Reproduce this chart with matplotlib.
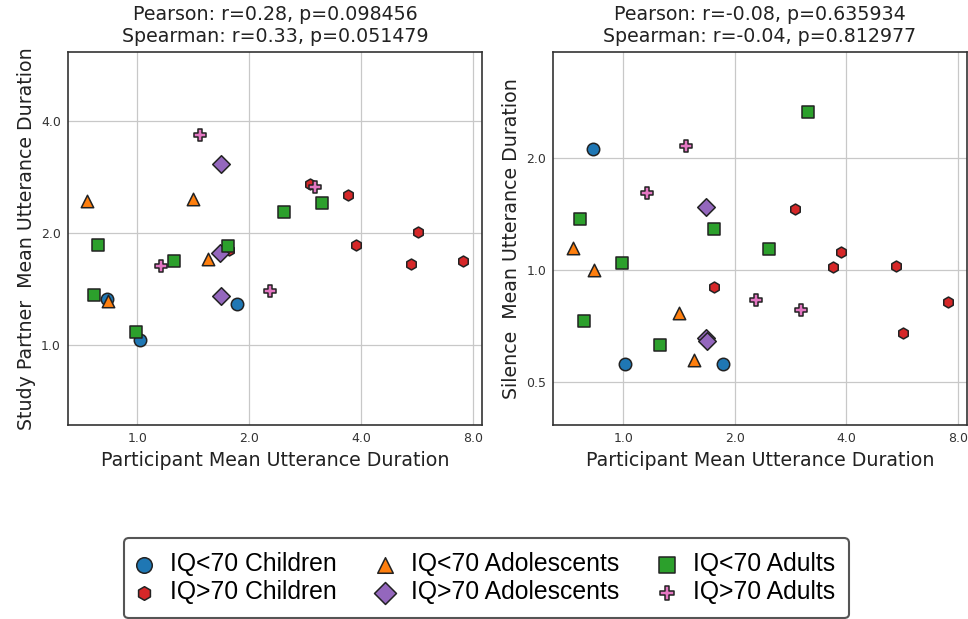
import matplotlib
matplotlib.use("Agg")
import matplotlib.pyplot as plt

# ---- data ----
groups = ["IQ<70 Children", "IQ>70 Children", "IQ<70 Adolescents",
          "IQ>70 Adolescents", "IQ<70 Adults", "IQ>70 Adults"]
colors = ["#1f77b4", "#d62728", "#ff7f0e", "#9467bd", "#2ca02c", "#e377c2"]
markers = ["o", "h", "^", "D", "s", "P"]
marker_sizes = [80, 62, 80, 80, 80, 68]

participant_iq70_children = [0.83, 1.013, 1.855]
partner_iq70_children = [1.33, 1.03, 1.29]
silence_iq70_children = [2.11, 0.561, 0.561]

participant_iq70p_children = [2.91, 1.76, 3.69, 3.87, 5.46, 5.68, 7.51]
partner_iq70p_children = [2.71, 1.80, 2.53, 1.86, 1.65, 2.01, 1.68]
silence_iq70p_children = [1.454, 0.902, 1.019, 1.117, 1.025, 0.676, 0.823]

participant_iq70_adolescents = [0.731, 0.835, 1.41, 1.55]
partner_iq70_adolescents = [2.43, 1.31, 2.46, 1.70]
silence_iq70_adolescents = [1.146, 1.0, 0.768, 0.574]

participant_iq70p_adolescents = [1.675, 1.672, 1.68]
partner_iq70p_adolescents = [3.05, 1.77, 1.35]
silence_iq70p_adolescents = [1.478, 0.659, 0.643]

participant_iq70_adults = [0.764, 0.784, 0.994, 1.255, 1.755, 2.475, 3.15]
partner_iq70_adults = [1.36, 1.86, 1.086, 1.68, 1.84, 2.27, 2.41]
silence_iq70_adults = [1.37, 0.730, 1.042, 0.631, 1.29, 1.138, 2.65]

participant_iq70p_adults = [1.475, 1.16, 3.01, 2.28]
partner_iq70p_adults = [3.65, 1.63, 2.66, 1.40]
silence_iq70p_adults = [2.15, 1.61, 0.78, 0.829]

participant = [participant_iq70_children, participant_iq70p_children,
               participant_iq70_adolescents, participant_iq70p_adolescents,
               participant_iq70_adults, participant_iq70p_adults]
partner = [partner_iq70_children, partner_iq70p_children,
           partner_iq70_adolescents, partner_iq70p_adolescents,
           partner_iq70_adults, partner_iq70p_adults]
silence = [silence_iq70_children, silence_iq70p_children,
           silence_iq70_adolescents, silence_iq70p_adolescents,
           silence_iq70_adults, silence_iq70p_adults]

titles = ["Pearson: r=0.28, p=0.098456\nSpearman: r=0.33, p=0.051479",
          "Pearson: r=-0.08, p=0.635934\nSpearman: r=-0.04, p=0.812977"]
ylabels = ["Study Partner  Mean Utterance Duration",
           "Silence  Mean Utterance Duration"]
xlabel = "Participant Mean Utterance Duration"
xticks = [1.0, 2.0, 4.0, 8.0]
yticks_left = [1.0, 2.0, 4.0]
yticks_right = [0.5, 1.0, 2.0]

# ---- figure ----
fig = plt.figure(figsize=(9.68, 6.19), dpi=100)
ax1 = fig.add_axes([0.0702, 0.3134, 0.4277, 0.6026])
ax2 = fig.add_axes([0.5716, 0.3134, 0.4271, 0.6026])

handles = []
for ax, ydata, title, ylab, yticks, xlim, ylim in [
        (ax1, partner, titles[0], ylabels[0], yticks_left, (0.65, 8.47), (0.61, 6.11)),
        (ax2, silence, titles[1], ylabels[1], yticks_right, (0.647, 8.46), (0.384, 3.84))]:
    ax.set_xscale("log", base=2)
    ax.set_yscale("log", base=2)
    ax.set_axisbelow(True)
    ax.grid(True, color="#c8c8c8", linewidth=0.9)
    hs = []
    for g, c, m, sz, xs, ys in zip(groups, colors, markers, marker_sizes,
                                   participant, ydata):
        h = ax.scatter(xs, ys, s=sz, c=c, marker=m, edgecolors="#222222",
                       linewidths=1.1, label=g, zorder=3)
        hs.append(h)
    handles = hs
    ax.set_xlim(*xlim)
    ax.set_ylim(*ylim)
    ax.set_xticks(xticks)
    ax.set_xticklabels([f"{t:.1f}" for t in xticks])
    ax.set_yticks(yticks)
    ax.set_yticklabels([f"{t:.1f}" for t in yticks])
    ax.minorticks_off()
    ax.tick_params(length=0, labelsize=9, labelcolor="#333333", pad=5)
    for sp in ax.spines.values():
        sp.set_color("#333333")
        sp.set_linewidth(1.2)
    ax.set_title(title, fontsize=13.7, color="#222222", pad=7)
    ax.set_xlabel(xlabel, fontsize=13.7, color="#222222")
    ax.set_ylabel(ylab, fontsize=13.7, color="#222222")

leg = fig.legend(handles=handles, labels=groups, loc="center",
                 bbox_to_anchor=(0.503, 0.066), ncol=3,
                 prop={"family": "Liberation Sans", "size": 17.8},
                 markerscale=1.25, handlelength=0.43, handletextpad=0.82,
                 columnspacing=1.75, borderpad=0.58, labelspacing=0.16,
                 fancybox=True, framealpha=1)
leg.get_frame().set_edgecolor("#555555")
leg.get_frame().set_linewidth(1.5)

fig.savefig("out.png", dpi=100)
